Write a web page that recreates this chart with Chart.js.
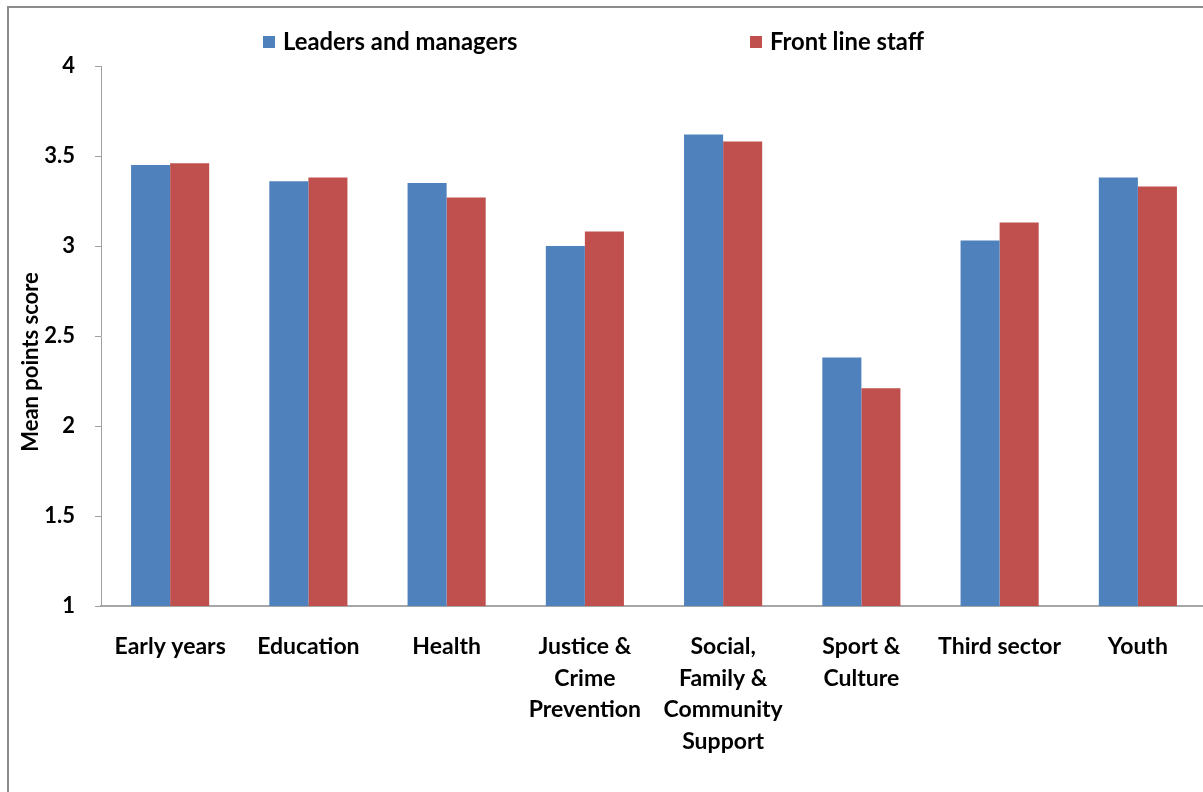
<!DOCTYPE html>
<html>
<head>
<meta charset="utf-8">
<script src="https://cdn.jsdelivr.net/npm/chart.js@4/dist/chart.umd.min.js"></script>
<style>
  html, body { margin: 0; padding: 0; background: #fff; overflow: hidden; width: 1203px; height: 792px; }
  #frame { position: absolute; left: 7px; top: 6px; width: 1300px; height: 900px; border-left: 2px solid #8c8c8c; border-top: 2px solid #8c8c8c; box-sizing: border-box; }
  #c { position: absolute; left: 0; top: 0; }
</style>
</head>
<body>
<div id="frame"></div>
<canvas id="c" width="1207" height="792"></canvas>
<script>
const categories = [
  "Early years",
  "Education",
  "Health",
  ["Justice &", "Crime", "Prevention"],
  ["Social,", "Family &", "Community", "Support"],
  ["Sport &", "Culture"],
  "Third sector",
  "Youth"
];
const seriesNames = ["Leaders and managers", "Front line staff"];
const leadersValues = [3.45, 3.36, 3.35, 3.00, 3.62, 2.38, 3.03, 3.38];
const frontLineValues = [3.46, 3.38, 3.27, 3.08, 3.58, 2.21, 3.13, 3.33];
const yTicks = [1, 1.5, 2, 2.5, 3, 3.5, 4];
const yTitle = "Mean points score";

const FONT = "Lato, 'Open Sans', sans-serif";
const colors = ["#4F81BD", "#C0504D"];

const legendPlugin = {
  id: 'excelLegend',
  afterDraw(chart) {
    const ctx = chart.ctx;
    const pos = [263, 750];
    ctx.save();
    ctx.font = "bold 23.8px " + FONT;
    ctx.textBaseline = "alphabetic";
    chart.data.datasets.forEach((ds, i) => {
      ctx.fillStyle = ds.backgroundColor;
      ctx.fillRect(pos[i], 36, 12, 12);
      ctx.fillStyle = "#000";
      ctx.fillText(ds.label, pos[i] + 20, 50);
    });
    // y-axis title, placed as in the reference (slightly below the plot centre)
    ctx.translate(31, 362);
    ctx.rotate(-Math.PI / 2);
    ctx.font = "bold 22px " + FONT;
    ctx.textAlign = "center";
    ctx.textBaseline = "middle";
    ctx.fillStyle = "#000";
    ctx.fillText(yTitle, 0, 0);
    ctx.restore();
  }
};

new Chart(document.getElementById('c'), {
  type: 'bar',
  data: {
    labels: categories,
    datasets: [
      { label: seriesNames[0], data: leadersValues, backgroundColor: colors[0] },
      { label: seriesNames[1], data: frontLineValues, backgroundColor: colors[1] }
    ]
  },
  options: {
    responsive: false,
    animation: false,
    layout: { padding: { top: 66, left: 0, right: 0, bottom: 0 } },
    plugins: { legend: { display: false }, tooltip: { enabled: false } },
    datasets: { bar: { barPercentage: 1.0, categoryPercentage: 0.565 } },
    scales: {
      x: {
        grid: { display: false },
        border: { display: true, color: '#a6a6a6', width: 2 },
        ticks: {
          color: '#000',
          font: { family: FONT, weight: 'bold', size: 23, lineHeight: 1.37 },
          padding: 17,
          maxRotation: 0,
          autoSkip: false
        },
        afterFit(scale) { scale.height = 792 - 606; }
      },
      y: {
        min: 1, max: 4,
        afterBuildTicks(scale) { scale.ticks = yTicks.map(v => ({ value: v })); },
        grid: { drawOnChartArea: false, drawTicks: true, tickLength: 6, color: '#a0a0a0' },
        border: { display: true, color: '#a0a0a0', width: 1 },
        ticks: {
          color: '#000',
          font: { family: FONT, weight: 'bold', size: 22 },
          padding: 20,
          callback: (v) => String(v)
        },
        afterFit(scale) { scale.width = 101; }
      }
    }
  },
  plugins: [legendPlugin]
});
</script>
</body>
</html>
